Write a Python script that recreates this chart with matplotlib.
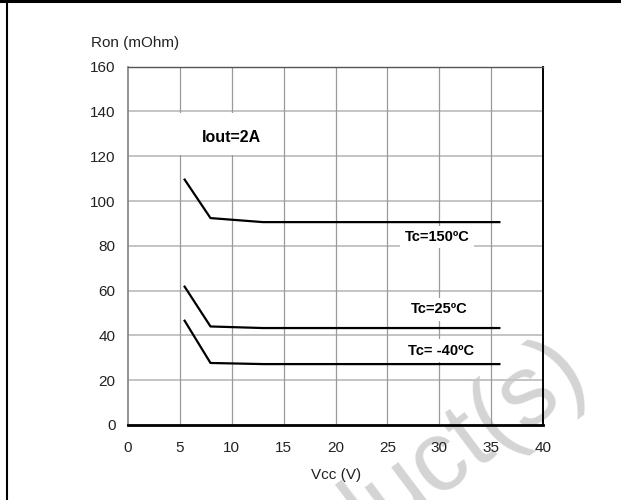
import matplotlib
matplotlib.use("Agg")
import matplotlib.pyplot as plt
from matplotlib.lines import Line2D
from matplotlib.patches import Rectangle

plt.rcParams['font.family'] = ['Liberation Sans', 'DejaVu Sans']

# ---- data ----
vcc = [5.4, 7.95, 13.0, 35.9]
ron_150 = [110.0, 92.4, 90.6, 90.6]
ron_25 = [62.2, 44.0, 43.3, 43.3]
ron_m40 = [47.0, 27.7, 27.2, 27.2]
series_labels = ["Tc=150ºC", "Tc=25ºC", "Tc= -40ºC"]
label_pos = [(29.8, 83.9), (30.0, 51.6), (30.2, 33.2)]
x_ticks = [0, 5, 10, 15, 20, 25, 30, 35, 40]
y_ticks = [0, 20, 40, 60, 80, 100, 120, 140, 160]
note = "Iout=2A"

fig = plt.figure(figsize=(6.21, 5.0), dpi=100)
ax = fig.add_axes([128/621, 75/500, 415/621, 358.3/500])
ax.set_facecolor('none')

ax.set_xlim(0, 40)
ax.set_ylim(0, 160)
ax.set_xticks(x_ticks)
ax.set_yticks(y_ticks)
ax.tick_params(length=0, labelsize=11, colors='#222222')
ax.tick_params(axis='x', pad=11.5)
ax.tick_params(axis='y', pad=9)

# grid
for y in y_ticks[1:-1]:
    ax.axhline(y, color='#c4c4c4', lw=1.4, zorder=1)
for x in x_ticks[1:-1]:
    ax.axvline(x, color='#9a9a9a', lw=0.9, zorder=1)

# spines
ax.spines['bottom'].set_color('black')
ax.spines['bottom'].set_linewidth(2.0)
ax.spines['right'].set_color('black')
ax.spines['right'].set_linewidth(1.4)
ax.spines['top'].set_color('#555555')
ax.spines['top'].set_linewidth(1.0)
ax.spines['left'].set_color('#808080')
ax.spines['left'].set_linewidth(1.2)

# white box behind note
ax.add_patch(Rectangle((4.9, 120.5), 10.0, 18.9, facecolor='white',
                       edgecolor='none', zorder=2))
ax.text(10.0, 128.6, note, ha='center', va='center', fontsize=11.5,
        fontweight='bold', zorder=4)

for ys in (ron_150, ron_25, ron_m40):
    ax.plot(vcc, ys, color='black', lw=1.6, zorder=5, solid_capstyle='butt')

for lab, (x, y) in zip(series_labels, label_pos):
    ax.text(x, y, lab, ha='center', va='center', fontsize=10.5, fontweight='bold',
            zorder=4, bbox=dict(facecolor='white', edgecolor='none',
                                boxstyle='square,pad=0.3'))

fig.text(90.7/621, 1 - 43/500, "Ron (mOhm)", ha='left', va='center', fontsize=11,
         color='#222222')
fig.text(336/621, 1 - 475/500, "Vcc (V)", ha='center', va='center', fontsize=11,
         color='#222222')

# page frame lines
fig.add_artist(Line2D([0, 1], [1 - 1.2/500, 1 - 1.2/500], color='black', lw=2.2,
                      transform=fig.transFigure))
fig.add_artist(Line2D([7/621, 7/621], [0, 1], color='black', lw=1.5,
                      transform=fig.transFigure))

# watermark (behind the chart)
wm = fig.text(590/621, 1 - 378/500, "Product(s)", ha='right', va='baseline',
              rotation=37, rotation_mode='anchor', fontsize=72, color='#d4d4d4',
              zorder=-1)

fig.savefig("out.png", dpi=100)
